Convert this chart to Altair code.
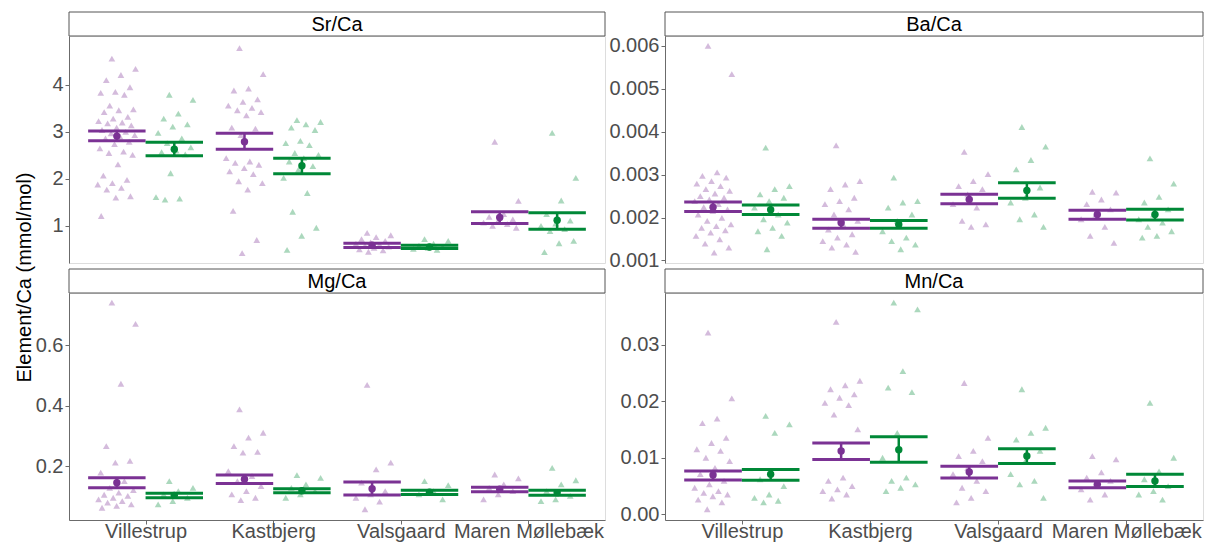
import altair as alt
import pandas as pd

sites = ["Villestrup", "Kastbjerg", "Valsgaard", "Maren Møllebæk"]
group_names = ["purple", "green"]
group_colors = ["#7b3294", "#008837"]

# ---------------- Sr/Ca ----------------
sr_purple = [
    [4.56, 4.34, 4.21, 4.10, 3.95, 3.85, 3.83, 3.79, 3.56, 3.48, 3.46, 3.42, 3.32, 3.28, 3.23, 3.20, 3.18, 3.14,
     3.09, 3.04, 3.00, 2.97, 2.93, 2.90, 2.86, 2.79, 2.74, 2.65, 2.58, 2.55, 2.51, 2.31, 2.07, 1.98, 1.91, 1.88,
     1.81, 1.77, 1.63, 1.60, 1.21],
    [4.78, 4.23, 3.92, 3.88, 3.69, 3.64, 3.56, 3.51, 3.46, 3.42, 3.35, 3.09, 3.07, 2.93, 2.44, 2.37, 2.34, 2.30,
     2.23, 2.16, 2.10, 1.95, 1.91, 1.77, 1.32, 0.70, 0.42],
    [0.85, 0.80, 0.76, 0.72, 0.68, 0.65, 0.62, 0.60, 0.58, 0.56, 0.53, 0.50, 0.48, 0.45],
    [2.79, 1.53, 1.25, 1.19, 1.14, 1.11, 1.07, 1.04, 1.00, 0.96],
]
sr_green = [
    [3.79, 3.68, 3.39, 3.28, 3.16, 3.11, 2.98, 2.86, 2.76, 2.67, 2.60, 2.57, 2.52, 2.12, 1.61, 1.58, 1.56],
    [3.25, 3.21, 3.16, 3.09, 3.04, 2.81, 2.76, 2.72, 2.55, 2.51, 2.44, 2.37, 2.27, 2.19, 2.02, 1.70, 1.30, 0.96,
     0.79, 0.49],
    [0.72, 0.68, 0.62, 0.58, 0.55, 0.53, 0.51, 0.49],
    [2.98, 2.02, 1.54, 1.25, 1.11, 1.05, 1.00, 0.93, 0.89, 0.68, 0.63, 0.44],
]
sr_purple_mean = [2.91, 2.79, 0.59, 1.18]
sr_purple_lo = [2.81, 2.63, 0.54, 1.05]
sr_purple_hi = [3.02, 2.97, 0.63, 1.30]
sr_green_mean = [2.63, 2.28, 0.55, 1.12]
sr_green_lo = [2.49, 2.11, 0.52, 0.93]
sr_green_hi = [2.78, 2.44, 0.59, 1.28]
sr_domain = [0.21, 5.04]
sr_ticks = [1, 2, 3, 4]

# ---------------- Ba/Ca ----------------
ba_purple = [
    [0.00600, 0.00534, 0.00305, 0.00297, 0.00293, 0.00285, 0.00279, 0.00273, 0.00266, 0.00262, 0.00256, 0.00250,
     0.00246, 0.00242, 0.00238, 0.00231, 0.00224, 0.00219, 0.00215, 0.00207, 0.00199, 0.00192, 0.00184, 0.00180,
     0.00176, 0.00170, 0.00165, 0.00157, 0.00149, 0.00139, 0.00130, 0.00118],
    [0.00368, 0.00285, 0.00277, 0.00266, 0.00246, 0.00238, 0.00231, 0.00219, 0.00207, 0.00192, 0.00184, 0.00172,
     0.00161, 0.00153, 0.00145, 0.00137, 0.00130, 0.00120],
    [0.00353, 0.00301, 0.00285, 0.00273, 0.00266, 0.00254, 0.00231, 0.00223, 0.00192, 0.00184, 0.00178],
    [0.00260, 0.00258, 0.00242, 0.00231, 0.00219, 0.00207, 0.00196, 0.00178, 0.00157, 0.00141],
]
ba_green = [
    [0.00363, 0.00273, 0.00266, 0.00254, 0.00246, 0.00238, 0.00223, 0.00207, 0.00196, 0.00188, 0.00176, 0.00168,
     0.00157, 0.00126],
    [0.00293, 0.00238, 0.00235, 0.00223, 0.00207, 0.00192, 0.00168, 0.00153, 0.00145, 0.00137, 0.00126],
    [0.00411, 0.00365, 0.00334, 0.00312, 0.00270, 0.00246, 0.00235, 0.00207, 0.00196, 0.00178],
    [0.00338, 0.00279, 0.00248, 0.00235, 0.00219, 0.00207, 0.00196, 0.00188, 0.00178, 0.00168, 0.00157, 0.00153],
]
ba_purple_mean = [0.00224, 0.00188, 0.00242, 0.00207]
ba_purple_lo = [0.00214, 0.00175, 0.00232, 0.00196]
ba_purple_hi = [0.00236, 0.00196, 0.00254, 0.00217]
ba_green_mean = [0.00218, 0.00184, 0.00263, 0.00207]
ba_green_lo = [0.00207, 0.00175, 0.00245, 0.00194]
ba_green_hi = [0.00229, 0.00193, 0.00281, 0.00219]
ba_domain = [0.00094, 0.00623]
ba_ticks = [0.001, 0.002, 0.003, 0.004, 0.005, 0.006]

# ---------------- Mg/Ca ----------------
mg_purple = [
    [0.74, 0.67, 0.472, 0.266, 0.217, 0.211, 0.178, 0.150, 0.128, 0.120, 0.112, 0.105, 0.101, 0.095, 0.090,
     0.084, 0.079, 0.073, 0.068, 0.062],
    [0.387, 0.31, 0.294, 0.266, 0.247, 0.244, 0.183, 0.167, 0.150, 0.134, 0.117, 0.106, 0.095, 0.087],
    [0.468, 0.211, 0.189, 0.145, 0.117, 0.106, 0.095, 0.082, 0.057],
    [0.172, 0.159, 0.139, 0.128, 0.117, 0.106, 0.090],
]
mg_green = [
    [0.150, 0.128, 0.117, 0.106, 0.095, 0.084, 0.073],
    [0.170, 0.161, 0.139, 0.128, 0.117, 0.106, 0.095],
    [0.150, 0.137, 0.117, 0.106, 0.090],
    [0.194, 0.153, 0.139, 0.117, 0.101, 0.090, 0.084],
]
mg_purple_mean = [0.145, 0.156, 0.125, 0.123]
mg_purple_lo = [0.128, 0.142, 0.104, 0.115]
mg_purple_hi = [0.161, 0.170, 0.147, 0.130]
mg_green_mean = [0.103, 0.118, 0.113, 0.112]
mg_green_lo = [0.095, 0.112, 0.106, 0.103]
mg_green_hi = [0.110, 0.125, 0.120, 0.120]
mg_domain = [0.0215, 0.772]
mg_ticks = [0.2, 0.4, 0.6]

# ---------------- Mn/Ca ----------------
mn_purple = [
    [0.0321, 0.0205, 0.0169, 0.0161, 0.0135, 0.0126, 0.0115, 0.0112, 0.0100, 0.0094, 0.0082, 0.0071, 0.0059,
     0.0053, 0.0047, 0.0041, 0.0038, 0.0035, 0.0032, 0.0026, 0.0021, 0.0009],
    [0.0340, 0.0236, 0.0228, 0.0221, 0.0212, 0.0206, 0.0197, 0.0193, 0.0176, 0.0150, 0.0065, 0.0059, 0.0050,
     0.0044, 0.0041, 0.0035, 0.0028],
    [0.0232, 0.0135, 0.0112, 0.0103, 0.0094, 0.0082, 0.0071, 0.0059, 0.0047, 0.0041, 0.0029, 0.0021],
    [0.0103, 0.0097, 0.0074, 0.0065, 0.0059, 0.0053, 0.0044, 0.0035, 0.0026],
]
mn_green = [
    [0.0174, 0.0159, 0.0144, 0.0062, 0.0050, 0.0035, 0.0029, 0.0024, 0.0021],
    [0.0374, 0.0362, 0.0253, 0.0224, 0.0216, 0.0144, 0.0100, 0.0065, 0.0059, 0.0053, 0.0047, 0.0041],
    [0.0221, 0.0153, 0.0144, 0.0132, 0.0112, 0.0094, 0.0071, 0.0059, 0.0053, 0.0029],
    [0.0197, 0.0100, 0.0076, 0.0062, 0.0050, 0.0041, 0.0035, 0.0026],
]
mn_purple_mean = [0.00694, 0.0112, 0.0075, 0.0053]
mn_purple_lo = [0.00606, 0.0097, 0.0064, 0.0047]
mn_purple_hi = [0.00765, 0.0126, 0.0085, 0.0059]
mn_green_mean = [0.0071, 0.0114, 0.0103, 0.0059]
mn_green_lo = [0.0060, 0.0092, 0.0090, 0.0049]
mn_green_hi = [0.0079, 0.0137, 0.0116, 0.0071]
mn_domain = [-0.001, 0.0391]
mn_ticks = [0.0, 0.01, 0.02, 0.03]

DODGE = [-0.225, 0.225]
HALF = 0.225
AXIS_GREY = "#6b6b6b"
LABEL_GREY = "#4d4d4d"
FONT = "Liberation Sans"


def jit(k):
    return (((k * 0.618034 + 0.37) % 1.0) - 0.5) * 0.30


def panel(name, pts_p, pts_g, stats, w, h, ydom, yticks, yfmt, bottom,
          ytitle=False, anchor=False):
    rows = []
    for gi, pts in enumerate([pts_p, pts_g]):
        for si, vals in enumerate(pts):
            for k, v in enumerate(vals):
                rows.append({"group": group_names[gi], "x": si + 1 + DODGE[gi] + jit(k), "v": v})
    pdf = pd.DataFrame(rows)

    srows = []
    for gi, (mean, lo, hi) in enumerate(stats):
        for si in range(4):
            xc = si + 1 + DODGE[gi]
            srows.append({"group": group_names[gi], "xc": xc, "xl": xc - HALF, "xr": xc + HALF,
                          "mean": mean[si], "lo": lo[si], "hi": hi[si]})
    sdf = pd.DataFrame(srows)

    xscale = alt.Scale(domain=[0.4, 4.6], nice=False, zero=False)
    yscale = alt.Scale(domain=ydom, nice=False, zero=False)
    if bottom:
        xaxis = alt.Axis(values=[1, 2, 3, 4], title=None, grid=False,
                         labelExpr="['', 'Villestrup', 'Kastbjerg', 'Valsgaard', 'Maren Møllebæk'][datum.value]",
                         labelFontSize=20, labelColor=LABEL_GREY, tickSize=4, labelPadding=13,
                         labelBaseline="alphabetic",
                         domainColor=AXIS_GREY, tickColor=AXIS_GREY, labelOverlap=False, labelFlush=False)
    else:
        xaxis = None
    yargs = dict(values=yticks, format=yfmt, grid=False, labelFontSize=20, labelColor=LABEL_GREY,
                 tickSize=4, labelPadding=2, domainColor=AXIS_GREY, tickColor=AXIS_GREY)
    if ytitle:
        yargs.update(title="Element/Ca (mmol/mol)", titleX=-39, titleY=-16, titleAngle=270,
                     titleAlign="center", titleBaseline="alphabetic", titleFontSize=20,
                     titleFontWeight="normal", titleColor="black", titleFont=FONT)
    else:
        yargs.update(title=None)
    yaxis = alt.Axis(**yargs)
    color = alt.Color("group:N", scale=alt.Scale(domain=group_names, range=group_colors), legend=None)

    pts = alt.Chart(pdf).mark_point(shape="triangle-up", filled=True, size=45, opacity=0.33).encode(
        x=alt.X("x:Q", scale=xscale, axis=xaxis),
        y=alt.Y("v:Q", scale=yscale, axis=yaxis),
        color=color,
    )
    lo_l = alt.Chart(sdf).mark_rule(strokeWidth=3).encode(
        x=alt.X("xl:Q", scale=xscale), x2="xr:Q", y=alt.Y("lo:Q", scale=yscale), color=color)
    hi_l = alt.Chart(sdf).mark_rule(strokeWidth=3).encode(
        x=alt.X("xl:Q", scale=xscale), x2="xr:Q", y=alt.Y("hi:Q", scale=yscale), color=color)
    vert = alt.Chart(sdf).mark_rule(strokeWidth=2.5).encode(
        x=alt.X("xc:Q", scale=xscale), y=alt.Y("lo:Q", scale=yscale), y2="hi:Q", color=color)
    mean = alt.Chart(sdf).mark_circle(size=55, opacity=1).encode(
        x=alt.X("xc:Q", scale=xscale), y=alt.Y("mean:Q", scale=yscale), color=color)

    sdf_strip = pd.DataFrame({"label": [name]})
    strip = alt.Chart(sdf_strip).mark_rect(fill="white", stroke="#555555", strokeWidth=1).encode(
        x=alt.value(0), x2=alt.value(w), y=alt.value(-24), y2=alt.value(0))
    strip_txt = alt.Chart(sdf_strip).mark_text(fontSize=20, color="black", baseline="middle",
                                                align="center", font=FONT).encode(
        x=alt.value(w / 2), y=alt.value(-11.5), text="label:N")

    layers = [pts, lo_l, hi_l, vert, mean, strip, strip_txt]
    if anchor:
        adf = pd.DataFrame({"a": [0]})
        anc = alt.Chart(adf).mark_rect(opacity=0).encode(
            x=alt.value(-68), x2=alt.value(-62), y=alt.value(-35), y2=alt.value(-31))
        layers.append(anc)
    return alt.layer(*layers).properties(width=w, height=h)


W_L, W_R, H = 536, 538, 227

tl = panel("Sr/Ca", sr_purple, sr_green,
           [(sr_purple_mean, sr_purple_lo, sr_purple_hi), (sr_green_mean, sr_green_lo, sr_green_hi)],
           W_L, H, sr_domain, sr_ticks, "d", bottom=False, anchor=True)
tr = panel("Ba/Ca", ba_purple, ba_green,
           [(ba_purple_mean, ba_purple_lo, ba_purple_hi), (ba_green_mean, ba_green_lo, ba_green_hi)],
           W_R, H, ba_domain, ba_ticks, ".3f", bottom=False)
bl = panel("Mg/Ca", mg_purple, mg_green,
           [(mg_purple_mean, mg_purple_lo, mg_purple_hi), (mg_green_mean, mg_green_lo, mg_green_hi)],
           W_L, H, mg_domain, mg_ticks, ".1f", bottom=True, ytitle=True)
br = panel("Mn/Ca", mn_purple, mn_green,
           [(mn_purple_mean, mn_purple_lo, mn_purple_hi), (mn_green_mean, mn_green_lo, mn_green_hi)],
           W_R, H, mn_domain, mn_ticks, ".2f", bottom=True)

chart = alt.concat(tl, tr, bl, br, columns=2, spacing={"row": 30, "column": 60}, bounds="flush").properties(
    padding={"left": 0, "top": 0, "right": 0, "bottom": 0}
).configure_view(stroke=None).configure(font=FONT, background="white")

chart.save("out.html", embed_options={"renderer": "svg", "actions": False})
